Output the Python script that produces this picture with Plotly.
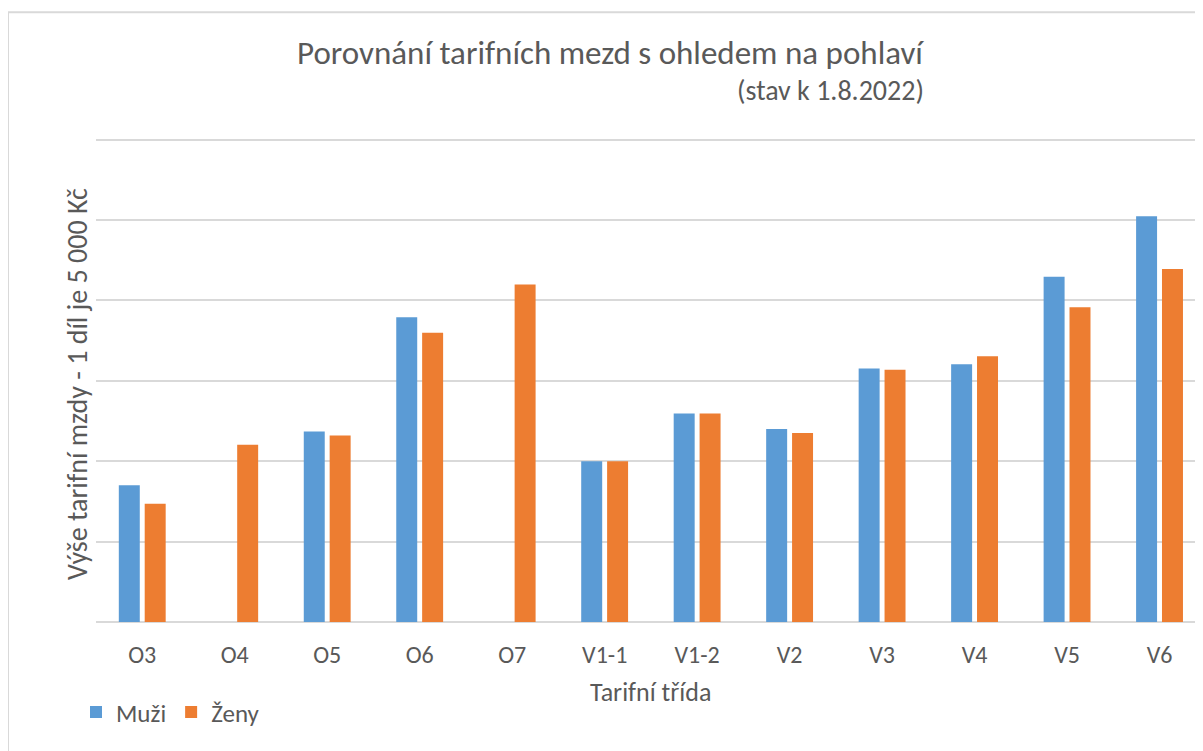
import plotly.graph_objects as go

categories = ["O3", "O4", "O5", "O6", "O7", "V1-1", "V1-2", "V2", "V3", "V4", "V5", "V6"]
muzi = [8500, None, 11850, 18950, None, 10000, 12970, 12000, 15760, 16030, 21470, 25230]
zeny = [7360, 11020, 11600, 17990, 20990, 10000, 12970, 11750, 15680, 16530, 19580, 21960]

FONT = "Carlito, Calibri, Lato, sans-serif"
TXT = "#595959"

# page body margin offset (figure drawn 8px in from the window corner)
OFF = 8
W, H = 1203 - OFF, 751 - OFF
Y_TOP = 30100
PLOT_BOTTOM = 622.5            # window pixel of the baseline
PX_PER_UNIT = 80.55 / 5000
PLOT_TOP = PLOT_BOTTOM - Y_TOP * PX_PER_UNIT
PLOT_LEFT = 96
ML = PLOT_LEFT - OFF
MT = PLOT_TOP - OFF
MB = (751 - PLOT_BOTTOM)
PW = W - ML
PH = PLOT_BOTTOM - PLOT_TOP

def px_x(p):
    return (p - PLOT_LEFT) / PW

def px_y(p):
    return (PLOT_BOTTOM - p) / PH

fig = go.Figure()
fig.add_trace(go.Bar(x=categories, y=muzi, name="Muži", marker=dict(color="#5B9BD5", line=dict(width=0))))
fig.add_trace(go.Bar(x=categories, y=zeny, name="Ženy", marker=dict(color="#ED7D31", line=dict(width=0))))

fig.update_layout(
    width=W, height=H,
    margin=dict(l=ML, r=0, t=MT, b=MB, pad=0, autoexpand=False),
    paper_bgcolor="white", plot_bgcolor="white",
    barmode="group", bargap=0.44, bargroupgap=0.19,
    font=dict(family=FONT, color=TXT, size=20),
    showlegend=True,
    legend=dict(orientation="h", x=px_x(76), y=px_y(713), xanchor="left", yanchor="middle",
                font=dict(size=25, color=TXT), itemwidth=30, traceorder="normal",
                bgcolor="rgba(0,0,0,0)"),
    xaxis=dict(type="category", range=[-0.5, 11.47], showgrid=False, zeroline=False,
               showline=False, ticks="", tickfont=dict(size=24, color=TXT),
               ticklabelstandoff=16),
    yaxis=dict(range=[0, Y_TOP], dtick=5000, showgrid=True, gridcolor="#D9D9D9", gridwidth=1.5,
               zeroline=True, zerolinecolor="#D9D9D9", zerolinewidth=1.5,
               showticklabels=False, ticks=""),
    shapes=[dict(type="rect", xref="paper", yref="paper",
                 x0=px_x(8), x1=px_x(1260), y0=px_y(800), y1=px_y(11.5),
                 line=dict(color="#D9D9D9", width=2), fillcolor="rgba(0,0,0,0)", layer="below")],
    annotations=[
        dict(text="Porovnání tarifních mezd s ohledem na pohlaví", xref="paper", yref="paper",
             x=px_x(926), y=px_y(52), xanchor="right", yanchor="middle", showarrow=False,
             font=dict(size=33, color=TXT)),
        dict(text="(stav k 1.8.2022)", xref="paper", yref="paper",
             x=px_x(926), y=px_y(90), xanchor="right", yanchor="middle", showarrow=False,
             font=dict(size=28, color=TXT)),
        dict(text="Výše tarifní mzdy - 1 díl je 5 000 Kč", xref="paper", yref="paper",
             x=px_x(78), y=px_y(384), xanchor="center", yanchor="middle", showarrow=False,
             textangle=-90, font=dict(size=28, color=TXT)),
        dict(text="Tarifní třída", xref="paper", yref="paper",
             x=px_x(650), y=px_y(693), xanchor="center", yanchor="middle", showarrow=False,
             font=dict(size=26, color=TXT)),
    ],
)

fig.write_html("out.html")
